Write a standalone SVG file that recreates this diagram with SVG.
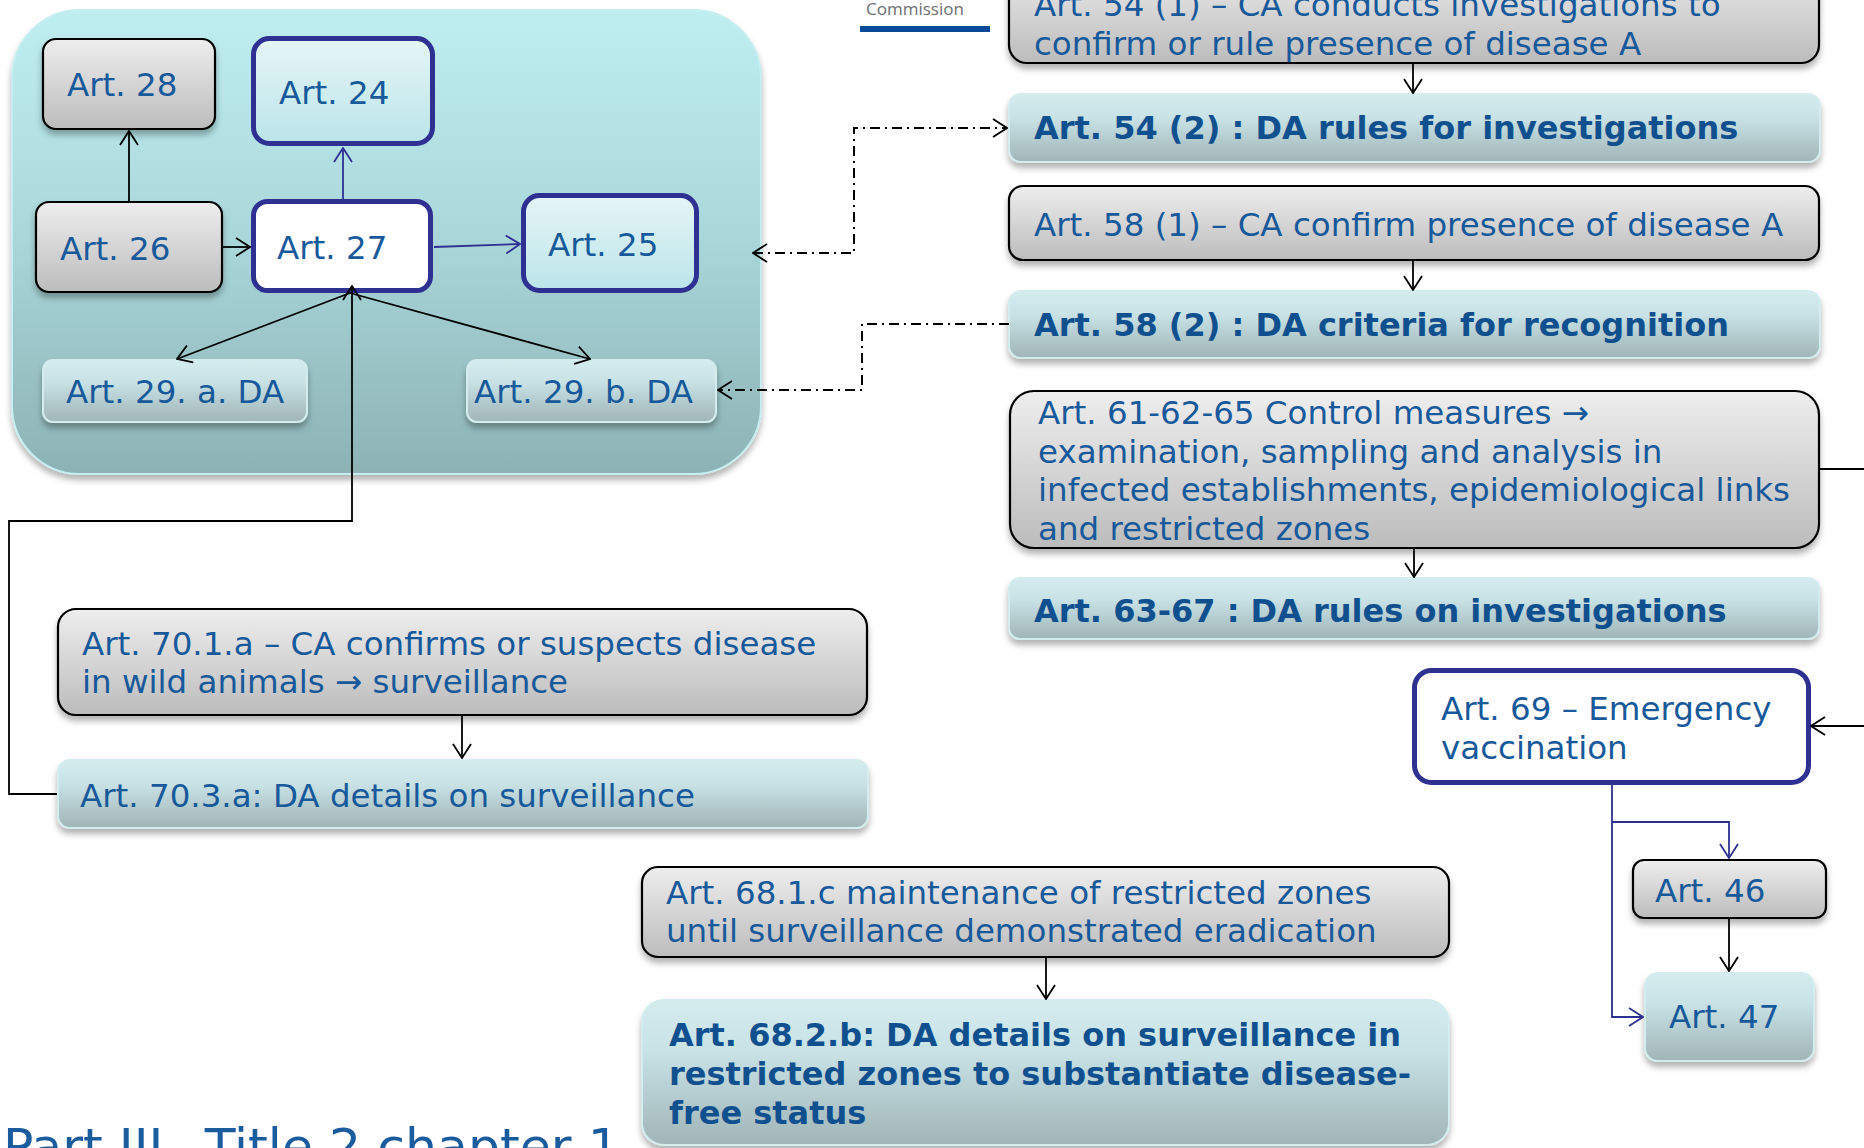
<svg xmlns="http://www.w3.org/2000/svg" width="1864" height="1148" viewBox="0 0 1864 1148">
<style>
.t{font-family:"DejaVu Sans",Verdana,sans-serif;font-size:32.5px;fill:#17599A}
.b{font-weight:bold;font-size:32px;fill:#11508F}
.gray{fill:url(#gGray);stroke:#000;stroke-width:2.2}
.da{fill:url(#gDa);stroke:#D3ECEE;stroke-width:2}
.navy{fill:url(#gCyan);stroke:#2E3192;stroke-width:5}
.white{fill:#fff;stroke:#2E3192;stroke-width:5}
.c{fill:none;stroke:#000;stroke-width:1.8}
.cn{fill:none;stroke:#2E3192;stroke-width:1.8}
.dd{fill:none;stroke:#000;stroke-width:2;stroke-dasharray:10 5 2 5}
</style>
<defs>
<linearGradient id="gGray" x1="0" y1="0" x2="0" y2="1"><stop offset="0" stop-color="#EEEEEE"/><stop offset="1" stop-color="#BCBCBC"/></linearGradient>
<linearGradient id="gDa" x1="0" y1="0" x2="0" y2="1"><stop offset="0" stop-color="#D5ECEF"/><stop offset="0.35" stop-color="#C8E2E5"/><stop offset="1" stop-color="#A0B5B8"/></linearGradient>
<linearGradient id="gCyan" x1="0" y1="0" x2="0" y2="1"><stop offset="0" stop-color="#E6F5F6"/><stop offset="1" stop-color="#BAE5EA"/></linearGradient>
<linearGradient id="gCont" x1="0" y1="0" x2="0" y2="1"><stop offset="0" stop-color="#BFEEF1"/><stop offset="0.5" stop-color="#A9D6D9"/><stop offset="1" stop-color="#8CB2B4"/></linearGradient>
<filter id="sh" x="-5%" y="-5%" width="110%" height="125%"><feDropShadow dx="0" dy="5" stdDeviation="3" flood-color="#000" flood-opacity="0.3"/></filter>
<marker id="ab" viewBox="0 0 16 20" refX="15" refY="10" markerWidth="16" markerHeight="20" markerUnits="userSpaceOnUse" orient="auto-start-reverse"><path d="M1,1 L15,10 L1,19" fill="none" stroke="#000" stroke-width="1.8" stroke-dasharray="none"/></marker>
<marker id="an" viewBox="0 0 16 20" refX="15" refY="10" markerWidth="16" markerHeight="20" markerUnits="userSpaceOnUse" orient="auto"><path d="M1,1 L15,10 L1,19" fill="none" stroke="#2E3192" stroke-width="1.8"/></marker>
</defs>
<rect width="1864" height="1148" fill="#fff"/>

<g id="container">
<rect x="12" y="10" width="749" height="464" rx="68" fill="url(#gCont)" stroke="#C6EEF0" stroke-width="2" filter="url(#sh)"/>
</g>

<g id="commission">
<text x="866" y="15" font-family="'Open Sans','DejaVu Sans',sans-serif" font-size="17" fill="#6D6E71">Commission</text>
<rect x="860" y="26" width="130" height="6" fill="#0B4A98"/>
</g>

<g id="art28"><rect class="gray" x="43" y="39" width="172" height="90" rx="13" filter="url(#sh)"/><text class="t" x="67" y="96">Art. 28</text></g>
<g id="art24"><rect class="navy" x="253.5" y="38.5" width="179" height="105" rx="16"/><text class="t" x="279" y="104">Art. 24</text></g>
<g id="art26"><rect class="gray" x="36" y="202" width="186" height="90" rx="13" filter="url(#sh)"/><text class="t" x="60" y="260">Art. 26</text></g>
<g id="art27"><rect class="white" x="253.5" y="201.5" width="177" height="89" rx="14"/><text class="t" x="277" y="259">Art. 27</text></g>
<g id="art25"><rect class="navy" x="523.5" y="195.5" width="173" height="95" rx="16"/><text class="t" x="548" y="256">Art. 25</text></g>
<g id="art29a"><rect class="da" x="43" y="360" width="264" height="62" rx="10" filter="url(#sh)"/><text class="t" x="66" y="403">Art. 29. a. DA</text></g>
<g id="art29b"><rect class="da" x="467" y="360" width="249" height="62" rx="10" filter="url(#sh)"/><text class="t" x="474" y="403">Art. 29. b. DA</text></g>

<g id="art54-1"><rect class="gray" x="1009" y="-40" width="810" height="103" rx="18" filter="url(#sh)"/><text class="t" x="1034" y="16">Art. 54 (1) – CA conducts investigations to</text><text class="t" x="1034" y="55">confirm or rule presence of disease A</text></g>
<g id="art54-2"><rect class="da" x="1009" y="94" width="811" height="68" rx="12" filter="url(#sh)"/><text class="t b" x="1034" y="139">Art. 54 (2) : DA rules for investigations</text></g>
<g id="art58-1"><rect class="gray" x="1009" y="186" width="810" height="74" rx="14" filter="url(#sh)"/><text class="t" x="1034" y="236">Art. 58 (1) – CA confirm presence of disease A</text></g>
<g id="art58-2"><rect class="da" x="1009" y="291" width="811" height="67" rx="12" filter="url(#sh)"/><text class="t b" x="1034" y="336">Art. 58 (2) : DA criteria for recognition</text></g>
<g id="art61"><rect class="gray" x="1010" y="391" width="809" height="157" rx="24" filter="url(#sh)"/>
<text class="t" x="1038" y="424">Art. 61-62-65 Control measures →</text>
<text class="t" x="1038" y="463">examination, sampling and analysis in</text>
<text class="t" x="1038" y="501">infected establishments, epidemiological links</text>
<text class="t" x="1038" y="540">and restricted zones</text></g>
<g id="art63"><rect class="da" x="1009" y="578" width="810" height="61" rx="11" filter="url(#sh)"/><text class="t b" x="1034" y="622">Art. 63-67 : DA rules on investigations</text></g>
<g id="art69"><rect class="white" x="1414.5" y="670.5" width="394" height="112" rx="17"/><text class="t" x="1441" y="720">Art. 69 – Emergency</text><text class="t" x="1441" y="759">vaccination</text></g>
<g id="art46"><rect class="gray" x="1633" y="860" width="193" height="58" rx="11" filter="url(#sh)"/><text class="t" x="1655" y="902">Art. 46</text></g>
<g id="art47"><rect class="da" x="1645" y="973" width="169" height="88" rx="13" filter="url(#sh)"/><text class="t" x="1669" y="1028">Art. 47</text></g>

<g id="art70-1"><rect class="gray" x="58" y="609" width="809" height="106" rx="18" filter="url(#sh)"/><text class="t" x="82" y="655">Art. 70.1.a – CA confirms or suspects disease</text><text class="t" x="82" y="693">in wild animals → surveillance</text></g>
<g id="art70-3"><rect class="da" x="58" y="760" width="810" height="68" rx="12" filter="url(#sh)"/><text class="t" x="80" y="807">Art. 70.3.a: DA details on surveillance</text></g>
<g id="art68-1"><rect class="gray" x="642" y="867" width="807" height="90" rx="16" filter="url(#sh)"/><text class="t" x="666" y="904">Art. 68.1.c maintenance of restricted zones</text><text class="t" x="666" y="942">until surveillance demonstrated eradication</text></g>
<g id="art68-2"><rect class="da" x="642" y="1000" width="807" height="145" rx="22" filter="url(#sh)"/>
<text class="t b" x="669" y="1046">Art. 68.2.b: DA details on surveillance in</text>
<text class="t b" x="669" y="1085">restricted zones to substantiate disease-</text>
<text class="t b" x="669" y="1124">free status</text></g>

<g id="title"><text x="3" y="1164" font-family="'DejaVu Sans',Verdana,sans-serif" font-size="50.5" fill="#1A5C9E">Part III –Title 2 chapter 1</text></g>

<g id="connectors">
<path class="c" d="M129,201 V131" marker-end="url(#ab)"/>
<path class="cn" d="M343,199 V148" marker-end="url(#an)"/>
<path class="c" d="M223,247 H250" marker-end="url(#ab)"/>
<path class="cn" d="M434,247 L520,244" marker-end="url(#an)"/>
<path class="c" d="M350,293 L177,359" marker-end="url(#ab)"/>
<path class="c" d="M350,293 L590,359" marker-end="url(#ab)"/>
<path class="c" d="M57,794 H9 V521 H352 V286" marker-end="url(#ab)"/>
<path class="dd" d="M753,253 H854 V128 H1007" marker-start="url(#ab)" marker-end="url(#ab)"/>
<path class="dd" d="M1009,324 H862 V390 H718" marker-end="url(#ab)"/>
<path class="c" d="M1413,63 V93" marker-end="url(#ab)"/>
<path class="c" d="M1413,260 V290" marker-end="url(#ab)"/>
<path class="c" d="M1414,548 V577" marker-end="url(#ab)"/>
<path class="c" d="M1819,469 H1880 V726 H1811" marker-end="url(#ab)"/>
<path class="cn" d="M1612,785 V822 H1729 V858" marker-end="url(#an)"/>
<path class="cn" d="M1612,822 V1017 H1643" marker-end="url(#an)"/>
<path class="c" d="M1729,918 V971" marker-end="url(#ab)"/>
<path class="c" d="M462,715 V758" marker-end="url(#ab)"/>
<path class="c" d="M1046,957 V999" marker-end="url(#ab)"/>
</g>
</svg>
